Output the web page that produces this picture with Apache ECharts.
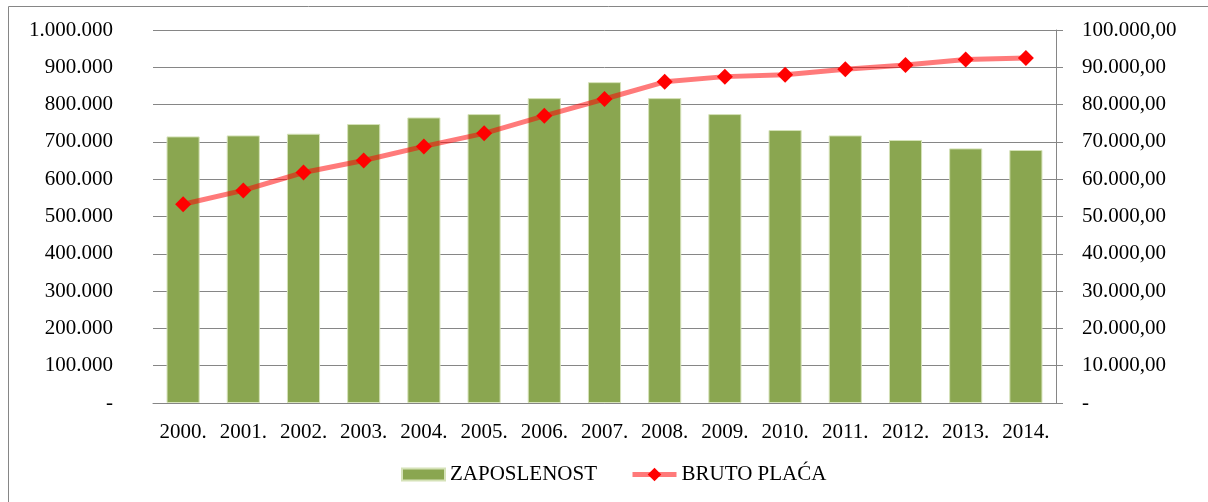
<!DOCTYPE html>
<html>
<head>
<meta charset="utf-8">
<script src="https://cdn.jsdelivr.net/npm/echarts@6/dist/echarts.min.js"></script>
<style>html,body{margin:0;padding:0;background:#fff}#c{width:1208px;height:502px}</style>
</head>
<body>
<div id="c"></div>
<script>
const categories = ['2000.','2001.','2002.','2003.','2004.','2005.','2006.','2007.','2008.','2009.','2010.','2011.','2012.','2013.','2014.'];
const zaposlenost = [714700, 717400, 721900, 747900, 765500, 774600, 817400, 860200, 817400, 774600, 731800, 717400, 705100, 682600, 678300];
const brutoPlaca = [53300, 57000, 61800, 65000, 68800, 72300, 77000, 81500, 86100, 87500, 88000, 89500, 90600, 92100, 92500];
const leftTicks = ['-','100.000','200.000','300.000','400.000','500.000','600.000','700.000','800.000','900.000','1.000.000'];
const rightTicks = ['-','10.000,00','20.000,00','30.000,00','40.000,00','50.000,00','60.000,00','70.000,00','80.000,00','90.000,00','100.000,00'];

const FONT = 'Liberation Serif';
const chart = echarts.init(document.getElementById('c'));
const legendText = { fontFamily: FONT, fontSize: 21, color: '#000' };
chart.setOption({
  animation: false,
  backgroundColor: '#fff',
  textStyle: { fontFamily: FONT },
  graphic: [{
    type: 'rect', shape: { x: 8.5, y: 6.5, width: 1215, height: 520 },
    style: { fill: 'none', stroke: '#868686', lineWidth: 1 }, silent: true
  }],
  grid: { left: 153, right: 152, top: 30, bottom: 99, containLabel: false },
  legend: [{
    left: 396, top: 459, itemWidth: 43, itemHeight: 12, itemGap: 3,
    textStyle: legendText,
    data: [{ name: 'ZAPOSLENOST', icon: 'rect' }]
  }, {
    left: 625, top: 459, itemWidth: 44, itemHeight: 17,
    textStyle: legendText,
    lineStyle: { width: 5, color: 'rgba(255,0,0,0.52)' },
    data: [{ name: 'BRUTO PLAĆA' }]
  }],
  xAxis: {
    type: 'category', data: categories,
    axisLine: { show: true, lineStyle: { color: '#868686', width: 1 } },
    axisTick: { show: false },
    axisLabel: { fontFamily: FONT, fontSize: 21, color: '#000', margin: 19, interval: 0 }
  },
  yAxis: [{
    type: 'value', min: 0, max: 1000000, interval: 100000,
    axisLine: { show: false }, axisTick: { show: false },
    splitLine: { show: true, lineStyle: { color: '#868686', width: 1 } },
    axisLabel: { fontFamily: FONT, fontSize: 21, color: '#000', margin: 40,
      formatter: v => leftTicks[Math.round(v / 100000)] }
  }, {
    type: 'value', min: 0, max: 100000, interval: 10000, position: 'right',
    axisLine: { show: true, lineStyle: { color: '#868686', width: 1 } },
    axisTick: { show: true, inside: false, length: 7, lineStyle: { color: '#868686' } },
    splitLine: { show: false },
    axisLabel: { fontFamily: FONT, fontSize: 21, color: '#000', margin: 26,
      formatter: v => rightTicks[Math.round(v / 10000)] }
  }],
  series: [{
    name: 'ZAPOSLENOST', type: 'bar', data: zaposlenost, yAxisIndex: 0,
    barCategoryGap: '45%',
    itemStyle: { color: '#8aa650', borderColor: '#d5e2b8', borderWidth: 1 }
  }, {
    name: 'BRUTO PLAĆA', type: 'line', data: brutoPlaca, yAxisIndex: 1,
    symbol: 'diamond', symbolSize: 16,
    lineStyle: { color: 'rgba(255,0,0,0.52)', width: 5 },
    itemStyle: { color: '#ff0000' }
  }]
});
</script>
</body>
</html>
